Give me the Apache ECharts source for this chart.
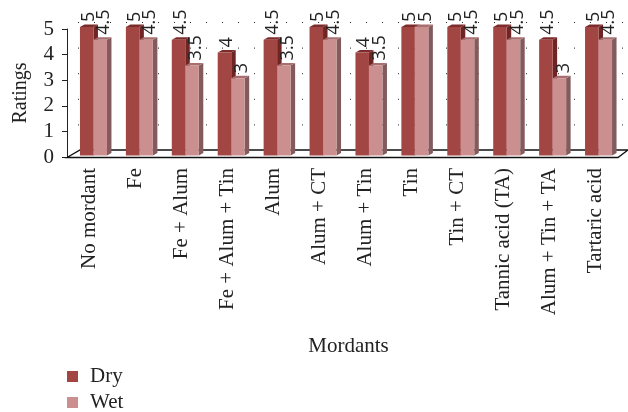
<!DOCTYPE html>
<html>
<head>
<meta charset="utf-8" />
<style>
  html, body { margin: 0; padding: 0; background: #fff; }
  #chart { width: 628px; height: 412px; }
</style>
<script src="https://cdn.jsdelivr.net/npm/echarts@6/dist/echarts.min.js"></script>
</head>
<body>
<div id="chart"></div>
<script>
var categories = ["No mordant", "Fe", "Fe + Alum", "Fe + Alum + Tin", "Alum", "Alum + CT", "Alum + Tin", "Tin", "Tin + CT", "Tannic acid (TA)", "Alum + Tin + TA", "Tartaric acid"];
var dryValues = [5, 5, 4.5, 4, 4.5, 5, 4, 5, 5, 5, 4.5, 5];
var wetValues = [4.5, 4.5, 3.5, 3, 3.5, 4.5, 3.5, 5, 4.5, 4.5, 3, 4.5];
var wallTicks = [1, 2, 3, 4, 5];

var serifFont = "Liberation Serif";
var labelFont = "Open Sans";

// back wall of the fake 3d box: dotted grid lines
function renderWall(params, api) {
  var y = api.coord([0, api.value(0)])[1];
  var r = params.coordSys;
  return {
    type: "line",
    silent: true,
    shape: { x1: r.x + 11, y1: y - 6.5, x2: r.x + r.width + 10, y2: y - 6.5 },
    style: { stroke: "#222", lineWidth: 1, lineDash: [1, 15] },
  };
}

function renderFloor(params, api) {
  var r = params.coordSys;
  var y0 = api.coord([0, 0])[1] + 0.5;
  return {
    type: "polygon",
    silent: true,
    shape: {
      points: [
        [r.x, y0],
        [r.x + 13, y0 - 7.5],
        [r.x + r.width + 10, y0 - 7.5],
        [r.x + r.width, y0],
      ],
    },
    style: { stroke: "#111", lineWidth: 1.4, fill: "#fff" },
  };
}

// one bar with its top and side faces, shift moves it left/right of the category center
function makeBarRenderer(shift, colors, labelDx) {
  return function (params, api) {
    var p = api.coord([api.value(0), api.value(1)]);
    var base = api.coord([api.value(0), 0]);
    var w = 13.5;
    var dx = 4.5;
    var dy = 2.5;
    var x = p[0] + shift;
    var top = p[1] - 2;
    var bottom = base[1] - 1.5;
    return {
      type: "group",
      silent: true,
      children: [
        {
          type: "polygon",
          shape: { points: [[x + w, top], [x + w + dx, top - dy], [x + w + dx, bottom - dy], [x + w, bottom]] },
          style: { fill: colors.side },
        },
        {
          type: "polygon",
          shape: { points: [[x, top], [x + dx, top - dy], [x + w + dx, top - dy], [x + w, top]] },
          style: { fill: colors.top },
        },
        {
          type: "rect",
          shape: { x: x, y: top, width: w, height: bottom - top },
          style: { fill: colors.front },
        },
        {
          type: "text",
          x: x + w / 2 + labelDx,
          y: top - 5,
          rotation: Math.PI / 2,
          style: {
            text: String(api.value(1)),
            font: "18px '" + labelFont + "'",
            fill: "#222",
            align: "left",
            verticalAlign: "middle",
          },
        },
      ],
    };
  };
}

function legendFor(name, top) {
  return {
    left: 67,
    top: top,
    padding: 0,
    icon: "rect",
    itemWidth: 11,
    itemHeight: 11,
    data: [name],
    textStyle: { fontFamily: serifFont, fontSize: 21, color: "#222", padding: [0, 0, 0, 7] },
  };
}

var chart = echarts.init(document.getElementById("chart"));

var option = {
  animation: false,
  backgroundColor: "#fff",
  grid: { left: 67, right: 10, top: 29, bottom: 255, containLabel: false, outerBoundsMode: "none" },
  legend: [legendFor("Dry", 366), legendFor("Wet", 392)],
  xAxis: {
    type: "category",
    data: categories,
    name: "Mordants",
    nameLocation: "middle",
    nameGap: 179,
    nameTextStyle: { fontFamily: serifFont, fontSize: 21, color: "#222", padding: [0, 0, 0, 12] },
    axisLine: { show: false },
    axisTick: { show: false },
    axisLabel: {
      rotate: 90,
      interval: 0,
      margin: 11,
      padding: [4, 0, 0, 0],
      fontFamily: serifFont,
      fontSize: 21,
      color: "#222",
    },
  },
  yAxis: {
    type: "value",
    min: 0,
    max: 5,
    interval: 1,
    name: "Ratings",
    nameLocation: "middle",
    nameGap: 36,
    nameTextStyle: { fontFamily: serifFont, fontSize: 20, color: "#222" },
    axisLine: { show: true, lineStyle: { color: "#222", width: 1 } },
    axisTick: { show: true, length: 5, lineStyle: { color: "#222" } },
    axisLabel: { fontFamily: serifFont, fontSize: 21, color: "#222", margin: 13 },
    splitLine: { show: false },
  },
  series: [
    {
      name: "floor",
      type: "custom",
      renderItem: renderFloor,
      data: [0],
      z: 1,
      clip: false,
    },
    {
      name: "wall",
      type: "custom",
      renderItem: renderWall,
      encode: { y: 0 },
      data: wallTicks,
      z: 1,
      clip: false,
    },
    {
      name: "Dry",
      type: "custom",
      renderItem: makeBarRenderer(-10, { front: "#a24644", top: "#7c2c2b", side: "#6f2524" }, 2),
      encode: { x: 0, y: 1 },
      data: dryValues.map(function (v, i) { return [i, v]; }),
      itemStyle: { color: "#a24644" },
      z: 3,
      clip: false,
    },
    {
      name: "Wet",
      type: "custom",
      renderItem: makeBarRenderer(3.5, { front: "#cb8f8f", top: "#a96f70", side: "#835b5c" }, 4),
      encode: { x: 0, y: 1 },
      data: wetValues.map(function (v, i) { return [i, v]; }),
      itemStyle: { color: "#cb8f8f" },
      z: 4,
      clip: false,
    },
  ],
};

chart.setOption(option);
</script>
</body>
</html>
